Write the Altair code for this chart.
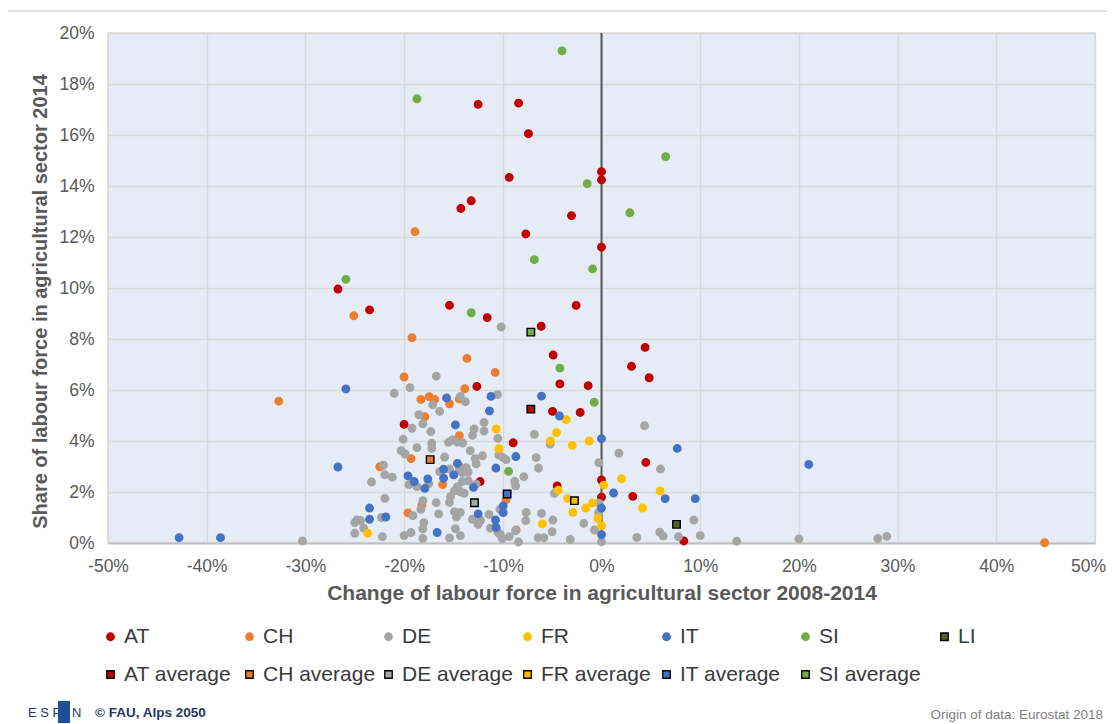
import altair as alt
import pandas as pd

# Change of labour force 2008-2014 (%) and share of labour force 2014 (%)
AT_x = [-12.5, -8.4, -7.4, -9.35, 0.0, 0.0, -13.2, -14.25, -3.04, -7.67, 0.0, -26.7, -23.5,
        -15.4, -11.58, -6.11, -2.57, 4.42, -4.9, 3.04, 4.83, -12.63, -4.22, -1.35, -4.96, -2.16,
        -20.0, -8.95, 4.49, -12.3, -4.49, 0.0, 0.0, 3.17, 8.34]
AT_y = [17.2, 17.25, 16.05, 14.34, 14.56, 14.24, 13.42, 13.12, 12.84, 12.12, 11.6, 9.96, 9.14,
        9.32, 8.84, 8.5, 9.32, 7.67, 7.37, 6.93, 6.48, 6.14, 6.24, 6.17, 5.16, 5.12,
        4.65, 3.93, 3.16, 2.41, 2.24, 2.47, 1.8, 1.83, 0.08]

CH_x = [-18.9, -25.1, -32.7, 44.9, -19.2, -13.64, -20.0, -10.77, -13.85, -18.3, -17.46, -16.9,
        -14.4, -15.4, -17.9, -14.4, -19.3, -16.1, -18.2, -9.66, -19.6, -8.65, -22.46, -14.4]
CH_y = [12.21, 8.91, 5.56, 0.01, 8.05, 7.24, 6.51, 6.69, 6.05, 5.63, 5.74, 5.63,
        5.65, 5.46, 4.95, 4.21, 3.31, 2.29, 1.48, 1.7, 1.18, 0.51, 2.99, 3.0]

DE_x = [-21.0, -30.3, 5.98, 9.35, 6.25, 7.8, 10.0, 13.7, 20.0, 28.0, 28.9,
        -10.17, -16.75, -19.4, -10.54, -14.3, -13.8, -17.1, -16.4, -18.5, 4.36, -19.2, -18.1,
        -17.3, -12.9, -11.9, -11.9, -13.07, -10.5, -6.8, -5.2, -20.1, -15.5, -15.1, -14.6,
        -14.05, -17.2, -17.2, -18.7, -20.3, -19.9, -15.9, -13.3, -12.8, -12.06, -12.7, -10.4,
        -9.96, -9.66, -6.62, 1.76, -0.27, -6.38, -15.4, -14.4, -13.7, -14.1, -13.5, -16.4,
        -19.5, -18.7, -17.5, -21.2, -22.1, -21.96, -7.87, -8.8, -8.7, -12.7, -14.1, -13.5,
        -14.6, -14.9, -13.9, -14.3, -15.3, -15.4, -16.75, -18.1, -21.95, -18.3, -4.76, -0.24,
        -0.3, 0.0, -0.71, -1.79, 3.58, 5.9, -6.08, -4.93, -7.63, -7.67, -10.3, -11.4, -12.26,
        -11.25, -10.5, -13.07, -12.5, -14.9, -14.3, -14.7, -16.5, -18.0, -18.1, -19.1, -14.8,
        -14.3, -15.4, -18.1, -19.3, -20.0, -22.2, -9.35, -10.06, -8.41, -10.27, -8.71, -6.42,
        -5.84, -3.17, -5.0, -23.3, -22.3, -24.8, -24.4, -25.0, -24.1, -25.0]
DE_y = [5.87, 0.08, 2.9, 0.9, 0.27, 0.25, 0.29, 0.07, 0.16, 0.18, 0.26,
        8.47, 6.54, 6.09, 5.82, 5.75, 5.54, 5.42, 5.16, 5.03, 4.6, 4.5, 4.67,
        4.37, 4.47, 4.73, 4.39, 4.22, 4.1, 4.26, 3.88, 4.07, 3.95, 4.04, 3.96,
        3.92, 3.91, 3.71, 3.74, 3.62, 3.49, 3.37, 3.62, 3.31, 3.42, 3.1, 3.45,
        3.35, 3.27, 3.35, 3.52, 3.15, 2.94, 2.9, 2.92, 2.95, 2.76, 2.78, 2.8,
        2.29, 2.21, 2.33, 2.58, 3.05, 2.68, 2.6, 2.42, 2.24, 2.31, 2.41, 2.44,
        2.21, 2.05, 1.95, 2.01, 1.82, 1.59, 1.58, 1.66, 1.75, 1.32, 1.95, 1.56,
        1.2, 0.05, 0.51, 0.77, 0.22, 0.42, 1.16, 0.9, 1.2, 0.88, 1.32, 1.12, 0.89,
        0.58, 0.42, 0.93, 0.73, 1.23, 1.2, 1.02, 1.14, 0.8, 0.55, 1.07, 0.56,
        0.29, 0.2, 0.18, 0.41, 0.29, 0.25, 0.25, 0.18, 0.04, 0.34, 0.48, 0.21,
        0.21, 0.14, 0.44, 2.39, 1.0, 0.9, 0.88, 0.8, 0.58, 0.38]

FR_x = [-3.58, -10.67, -4.56, -5.17, -2.97, -1.25, -10.4, -4.39, -3.44, -2.9, -1.59, -0.91,
        0.24, 2.03, 4.15, 5.94, -0.37, 0.0, -6.0, -23.7]
FR_y = [4.84, 4.47, 4.33, 4.0, 3.83, 4.0, 3.7, 2.07, 1.75, 1.2, 1.37, 1.57,
        2.27, 2.52, 1.37, 2.04, 0.97, 0.68, 0.75, 0.38]

IT_x = [-25.9, -26.7, -42.8, -38.6, 7.67, 21.0, 6.45, 9.5, -11.2, -6.08, -15.7, -11.35, -4.26,
        -14.8, 0.0, -8.68, -10.7, -14.6, -16.0, -14.96, -16.0, -19.6, -18.98, -17.6, -17.9,
        -12.97, 1.22, 0.0, 0.0, -9.96, -9.96, -10.74, -10.67, -12.5, -21.85, -16.65, -23.5, -23.5]
IT_y = [6.04, 2.98, 0.21, 0.21, 3.71, 3.08, 1.74, 1.74, 5.75, 5.76, 5.69, 5.18, 4.98,
        4.63, 4.09, 3.39, 2.94, 3.12, 2.89, 2.67, 2.54, 2.63, 2.41, 2.51, 2.14,
        2.18, 1.96, 1.37, 0.33, 1.45, 1.19, 0.9, 0.61, 1.14, 1.02, 0.41, 1.37, 0.93]

SI_x = [-4.0, -18.7, -1.45, -6.8, -0.9, -25.9, 6.5, 2.87, -13.2, -4.22, -0.74, -9.42]
SI_y = [19.3, 17.42, 14.09, 11.11, 10.75, 10.34, 15.15, 12.95, 9.03, 6.86, 5.52, 2.81]

LI_x = [7.6]
LI_y = [0.73]

AVG_names = ["AT average", "CH average", "DE average", "FR average", "IT average", "SI average"]
AVG_x = [-7.16, -17.36, -12.87, -2.74, -9.56, -7.16]
AVG_y = [5.25, 3.27, 1.58, 1.66, 1.92, 8.27]

series_names = ["AT", "CH", "DE", "FR", "IT", "SI", "LI"] + AVG_names
colors = ["#C00000", "#ED7D31", "#A5A5A5", "#FFC000", "#4472C4", "#70AD47", "#4F6228",
          "#C00000", "#ED7D31", "#A5A5A5", "#FFC000", "#4472C4", "#70AD47"]
strokes = ["#C00000", "#ED7D31", "#A5A5A5", "#FFC000", "#4472C4", "#70AD47", "#000000",
           "#000000", "#000000", "#000000", "#000000", "#000000", "#000000"]
shapes = ["circle"] * 6 + ["square"] * 7
sizes = [56] * 6 + [150] * 7

rows = []
for name, xs, ys in [("AT", AT_x, AT_y), ("CH", CH_x, CH_y), ("DE", DE_x, DE_y),
                     ("FR", FR_x, FR_y), ("IT", IT_x, IT_y), ("SI", SI_x, SI_y),
                     ("LI", LI_x, LI_y)]:
    for x, y in zip(xs, ys):
        rows.append({"x": x, "y": y, "series": name})
for name, x, y in zip(AVG_names, AVG_x, AVG_y):
    rows.append({"x": x, "y": y, "series": name})
df = pd.DataFrame(rows)
df["order"] = range(len(df))

FONT = "Liberation Sans"

leg = alt.Legend(
    title=None, orient="none", legendX=-8, legendY=593, direction="horizontal",
    columns=7, gridAlign="all", columnPadding=2, rowPadding=16,
    labelFont=FONT, labelFontSize=21, labelColor="#3A3A3A", labelOffset=3,
    symbolStrokeWidth=1.3,
)

xaxis = alt.Axis(values=list(range(-50, 51, 10)), labelExpr="datum.value + '%'",
                 title="Change of labour force in agricultural sector 2008-2014",
                 ticks=False, labelPadding=14, titlePadding=8, labelFlush=False,
                 labelOffset={"expr": "datum.value == 50 ? -7 : 0"},
                 titleFontSize=21,
                 domainColor="#BFBFBF", domainWidth=2)
yaxis = alt.Axis(values=list(range(0, 21, 2)), labelExpr="datum.value + '%'",
                 title="Share of labour force in agricultural sector 2014",
                 ticks=False, labelPadding=14, titlePadding=8, domain=False,
                 labelFlush=False, titleFontSize=20, titleY=268)

base = alt.Chart(df)

zero_rule = alt.Chart(pd.DataFrame({"v": [0]})).mark_rule(color="#595959", strokeWidth=2).encode(
    x=alt.X("v:Q", scale=alt.Scale(domain=[-50, 50], nice=False), axis=xaxis)
)

points = base.mark_point(filled=True, opacity=1, fillOpacity=1, strokeWidth=1.4).encode(
    x=alt.X("x:Q", scale=alt.Scale(domain=[-50, 50], nice=False), axis=xaxis),
    y=alt.Y("y:Q", scale=alt.Scale(domain=[0, 20], nice=False), axis=yaxis),
    color=alt.Color("series:N", scale=alt.Scale(domain=series_names, range=colors), legend=leg),
    stroke=alt.Stroke("series:N", scale=alt.Scale(domain=series_names, range=strokes), legend=leg),
    shape=alt.Shape("series:N", scale=alt.Scale(domain=series_names, range=shapes), legend=leg),
    size=alt.Size("series:N", scale=alt.Scale(domain=series_names, range=sizes), legend=leg),
    order=alt.Order("order:Q"),
)

frame_line = alt.Chart(pd.DataFrame({"a": [0]})).mark_rule(color="#D9D9D9", strokeWidth=1.5).encode(
    x=alt.value(-108), x2=alt.value(1010), y=alt.value(-22)
)

espon = alt.Chart(pd.DataFrame({"t": ["E S P"]})).mark_text(
    font=FONT, fontSize=13, color="#1F3864", align="left", baseline="middle"
).encode(text="t:N", x=alt.value(-80), y=alt.value(680))
espon_box = alt.Chart(pd.DataFrame({"a": [0]})).mark_rect(color="#1F4E99").encode(
    x=alt.value(-50), x2=alt.value(-38), y=alt.value(668), y2=alt.value(690)
)
espon_n = alt.Chart(pd.DataFrame({"t": ["N"]})).mark_text(
    font=FONT, fontSize=13, color="#1F3864", align="left", baseline="middle"
).encode(text="t:N", x=alt.value(-36), y=alt.value(680))
fau = alt.Chart(pd.DataFrame({"t": ["© FAU, Alps 2050"]})).mark_text(
    font=FONT, fontSize=13.5, fontWeight="bold", color="#1F3864", align="left", baseline="middle"
).encode(text="t:N", x=alt.value(-13), y=alt.value(680))
origin = alt.Chart(pd.DataFrame({"t": ["Origin of data: Eurostat 2018"]})).mark_text(
    font=FONT, fontSize=13.5, color="#7F7F7F", align="right", baseline="middle"
).encode(text="t:N", x=alt.value(995), y=alt.value(682))

chart = alt.layer(zero_rule, points, frame_line, espon, espon_box, espon_n, fau, origin).properties(
    width=987, height=510,
    autosize=alt.AutoSizeParams(type="none"),
    padding={"left": 100, "top": 25, "right": 12, "bottom": 181},
).configure_view(
    fill="#E5ECF6", stroke="#D9D9D9", strokeWidth=1.5
).configure_axis(
    labelFont=FONT, labelFontSize=17.5, labelColor="#595959",
    titleFont=FONT, titleFontSize=19, titleFontWeight="bold", titleColor="#595959",
    gridColor="#D9D9D9", gridWidth=1.5,
)

chart.save("out.html", embed_options={"renderer": "svg", "actions": False})
